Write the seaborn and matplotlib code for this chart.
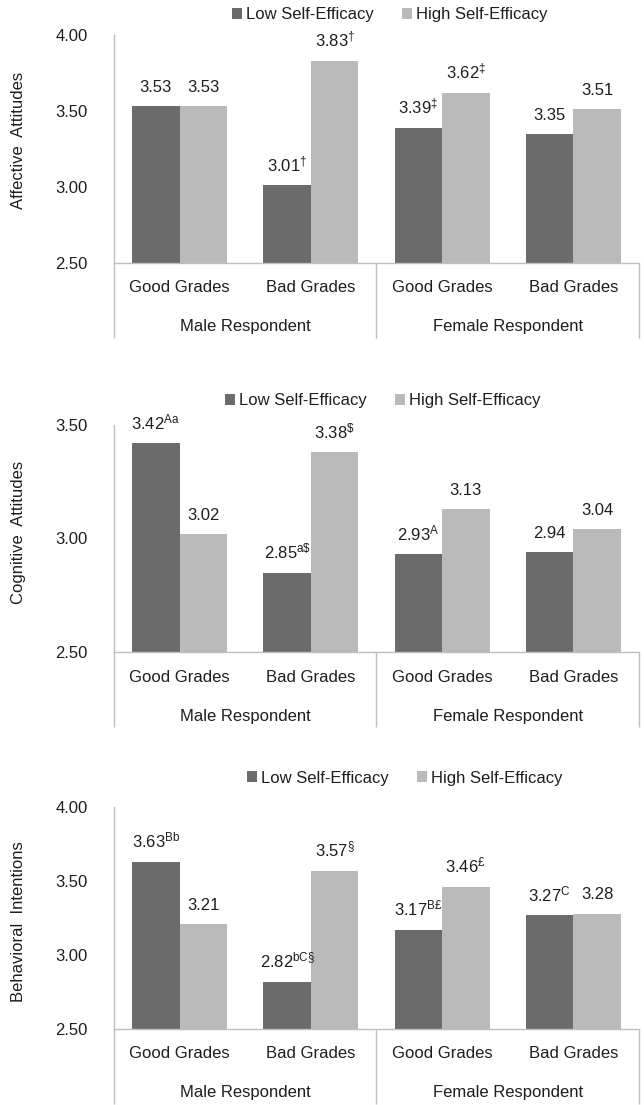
import matplotlib
matplotlib.use("Agg")
import matplotlib.pyplot as plt
import matplotlib.transforms as mtransforms
import seaborn as sns
import pandas as pd

# ---------------- data ----------------
groups = ["Male Respondent", "Female Respondent"]
grades = ["Good Grades", "Bad Grades"]
efficacy = ["Low Self-Efficacy", "High Self-Efficacy"]

panel_titles = ["Affective  Attitudes", "Cognitive  Attitudes", "Behavioral  Intentions"]

# values ordered: Male-Good, Male-Bad, Female-Good, Female-Bad
affective_low = [3.53, 3.01, 3.39, 3.35]
affective_high = [3.53, 3.83, 3.62, 3.51]
affective_low_sup = ["", "†", "‡", ""]
affective_high_sup = ["", "†", "‡", ""]

cognitive_low = [3.42, 2.85, 2.93, 2.94]
cognitive_high = [3.02, 3.38, 3.13, 3.04]
cognitive_low_sup = ["Aa", "a$", "A", ""]
cognitive_high_sup = ["", "$", "", ""]

behavioral_low = [3.63, 2.82, 3.17, 3.27]
behavioral_high = [3.21, 3.57, 3.46, 3.28]
behavioral_low_sup = ["Bb", "bC§", "B£", "C"]
behavioral_high_sup = ["", "§", "£", ""]

y_ranges = [(2.5, 4.0), (2.5, 3.5), (2.5, 4.0)]
y_ticks = [[2.5, 3.0, 3.5, 4.0], [2.5, 3.0, 3.5], [2.5, 3.0, 3.5, 4.0]]

panels = [
    (affective_low, affective_high, affective_low_sup, affective_high_sup),
    (cognitive_low, cognitive_high, cognitive_low_sup, cognitive_high_sup),
    (behavioral_low, behavioral_high, behavioral_low_sup, behavioral_high_sup),
]

# ---------------- style ----------------
sns.set_theme(style="white")
plt.rcParams["font.family"] = ["Liberation Sans", "DejaVu Sans"]
plt.rcParams["mathtext.fontset"] = "custom"
plt.rcParams["mathtext.rm"] = "Liberation Sans"
plt.rcParams["mathtext.it"] = "Liberation Sans"
plt.rcParams["mathtext.bf"] = "Liberation Sans"
plt.rcParams["mathtext.default"] = "regular"

DARK = "#6b6b6b"
LIGHT = "#bababa"
AXIS = "#bfbfbf"
TXT = "#1e1e1e"
FS = 12

W, H = 644, 1105
fig = plt.figure(figsize=(W / 100, H / 100), dpi=100)

# pixel layout of the three plot areas (left, right, top, bottom)
boxes = [(114, 639, 35, 263), (114, 639, 425, 652), (114, 639, 807, 1029)]
legend_pos = [(390, 15), (383, 401), (405, 778)]
ylabel_pos = [(19, 140), (19, 532), (19, 922)]

cells = [f"{g}|{gr}" for g in groups for gr in grades]

for i, (box, (lo, hi, lo_s, hi_s)) in enumerate(zip(boxes, panels)):
    l, r, t, b = box
    ax = fig.add_axes([l / W, 1 - b / H, (r - l) / W, (b - t) / H])

    df = pd.DataFrame({
        "cell": cells * 2,
        "value": lo + hi,
        "efficacy": [efficacy[0]] * 4 + [efficacy[1]] * 4,
    })
    sns.barplot(data=df, x="cell", y="value", hue="efficacy", order=cells,
                hue_order=efficacy, palette=[DARK, LIGHT], saturation=1,
                width=0.724, gap=0, errorbar=None, linewidth=0, ax=ax)

    ax.set_ylim(*y_ranges[i])
    ax.set_xlim(-0.5, 3.5)
    ax.set_yticks(y_ticks[i])
    ax.set_yticklabels([f"{v:.2f}" for v in y_ticks[i]], fontsize=FS, color=TXT)
    ax.set_xticks(range(4))
    ax.set_xticklabels(grades * 2, fontsize=FS, color=TXT)
    ax.tick_params(axis="x", length=0, pad=18)
    ax.tick_params(axis="y", length=0, pad=19)
    for lbl in ax.get_xticklabels():
        lbl.set_va("center")
    ax.set_xlabel("")
    ax.set_ylabel("")

    for s in ["top", "right"]:
        ax.spines[s].set_visible(False)
    for s in ["left", "bottom"]:
        ax.spines[s].set_color(AXIS)
        ax.spines[s].set_linewidth(1.0)

    # value labels with superscripts
    for cont, vals, sups in zip(ax.containers, [lo, hi], [lo_s, hi_s]):
        labels = []
        for v, s in zip(vals, sups):
            if s:
                labels.append(f"{v:.2f}$^{{{s.replace('$', chr(92) + '$')}}}$")
            else:
                labels.append(f"{v:.2f}")
        ax.bar_label(cont, labels=labels, padding=8, fontsize=FS, color=TXT)

    # multi-level category axis: separators and group labels
    height_px = b - t
    trans = mtransforms.blended_transform_factory(ax.transData, ax.transAxes)
    for xs in [-0.5, 1.5, 3.5]:
        ax.plot([xs, xs], [0, -75 / height_px], transform=trans, color=AXIS,
                lw=1.0, clip_on=False, solid_capstyle="butt")
    for gi, g in enumerate(groups):
        ax.text(gi * 2 + 0.5, -64 / height_px, g, transform=trans, ha="center",
                va="center", fontsize=FS, color=TXT)

    # legend
    lx, ly = legend_pos[i]
    sns.move_legend(ax, "center", bbox_to_anchor=(lx / W, 1 - ly / H),
                    bbox_transform=fig.transFigure, ncol=2, title=None,
                    frameon=False, fontsize=FS, handlelength=0.6,
                    handleheight=0.6, handletextpad=0.25, columnspacing=1.7,
                    borderpad=0, borderaxespad=0)
    for txt in ax.get_legend().get_texts():
        txt.set_color(TXT)

    # y-axis title
    yx, yy = ylabel_pos[i]
    fig.text(yx / W, 1 - yy / H, panel_titles[i], rotation=90, ha="center",
             va="center", fontsize=FS, color=TXT)

fig.savefig("out.png", dpi=100)
